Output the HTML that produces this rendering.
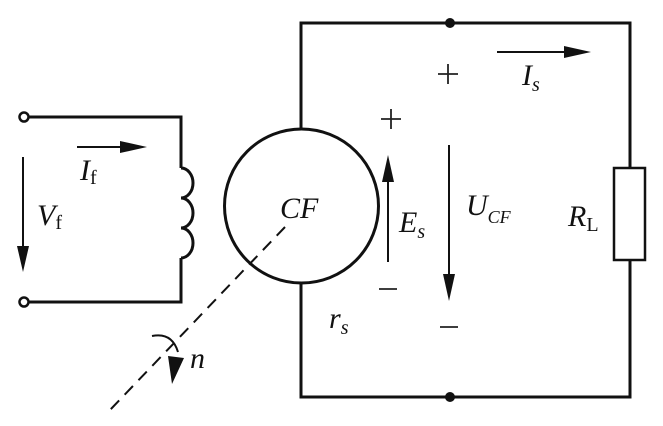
<!DOCTYPE html>
<html><head><style>
html,body{margin:0;padding:0;background:#fff;}
svg{display:block;}
text{font-family:"Liberation Serif",serif;font-style:italic;fill:#111;}
.u{font-style:normal;}
</style></head><body>
<svg width="663" height="426" viewBox="0 0 663 426" xmlns="http://www.w3.org/2000/svg">
<g stroke="#111" stroke-width="3" fill="none">
<path d="M301 129 V23 H630 V168 M630 260 V397 H301 V283"/>
<rect x="614" y="168" width="31" height="92" stroke-width="2.5"/>
<circle cx="301.5" cy="206" r="77"/>
<path d="M29 117 H181 V168 M181 258 V302 H29"/>
<path d="M181 168 a12 15 0 0 1 0 30 a12 15 0 0 1 0 30 a12 15 0 0 1 0 30"/>
<circle cx="24" cy="117" r="4.5" stroke-width="2.5" fill="#fff"/>
<circle cx="24" cy="302" r="4.5" stroke-width="2.5" fill="#fff"/>
</g>
<g stroke="#111" stroke-width="2" fill="none">
<line x1="77" y1="147" x2="125" y2="147"/>
<line x1="23" y1="157" x2="23" y2="255"/>
<line x1="497" y1="52" x2="570" y2="52"/>
<line x1="388" y1="262" x2="388" y2="175"/>
<line x1="449" y1="145" x2="449" y2="278"/>
<line x1="285" y1="227" x2="110" y2="410" stroke-dasharray="12,8"/>
<path d="M152 336 Q172 332 178 352"/>
</g>
<g stroke="#222" stroke-width="1.8">
<path d="M438 74 H458 M448 64 V84"/>
<path d="M381 119 H401 M391 109 V129"/>
<path d="M379 289 H397"/>
<path d="M440 327 H458"/>
</g>
<g fill="#111">
<circle cx="450" cy="23" r="5"/>
<circle cx="450" cy="397" r="5"/>
<polygon points="147,147 120,141 120,153"/>
<polygon points="23,272 17,246 29,246"/>
<polygon points="591,52 564,46 564,58"/>
<polygon points="388,155 382,182 394,182"/>
<polygon points="449,301 443,274 455,274"/>
<polygon points="172,384 168,356 184,358"/>
</g>
<g font-size="30">
<text x="80" y="180">I<tspan class="u" font-size="20" dy="4">f</tspan></text>
<text x="37" y="225">V<tspan class="u" font-size="20" dy="4">f</tspan></text>
<text x="280" y="218">CF</text>
<text x="399" y="232">E<tspan font-size="20" dy="6">s</tspan></text>
<text x="466" y="215">U<tspan font-size="18" dy="8">CF</tspan></text>
<text x="568" y="226">R<tspan class="u" font-size="20" dy="5">L</tspan></text>
<text x="522" y="85">I<tspan font-size="20" dy="6">s</tspan></text>
<text x="329" y="328">r<tspan font-size="20" dy="6">s</tspan></text>
<text x="190" y="368">n</text>
</g>
</svg>
</body></html>
